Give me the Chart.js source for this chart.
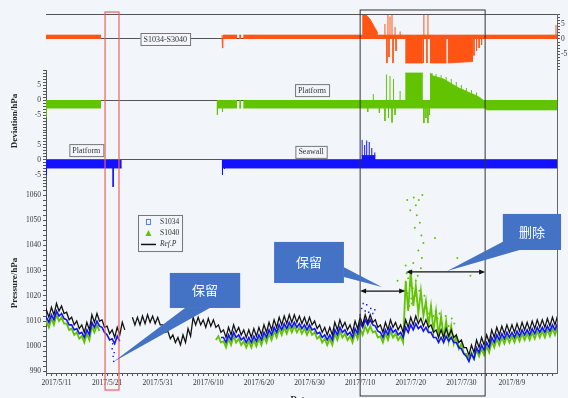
<!DOCTYPE html>
<html>
<head>
<meta charset="utf-8">
<script src="https://cdn.jsdelivr.net/npm/chart.js@4.4.1/dist/chart.umd.min.js"></script>
<style>
  html, body { margin: 0; padding: 0; background: #f2f6fa; }
  #wrap { width: 568px; height: 398px; }
</style>
</head>
<body>
<div id="wrap"><canvas id="c" width="568" height="398"></canvas></div>
<script>
// day 0 = 2017/5/11, pressure series sampled every half day from day -3
const seriesStart = -3;
const STEP = 0.5;

const refP = [
  1013.5,1010.5, 1014.5,1011.5, 1015.5,1012.5, 1017,1014, 1016,1013, 1013.5,1010.5, 1011.5,1008.5, 1010,1007, 1008.5,1005.5, 1009.5,1006.5,
  1012.5,1009.5, 1013,1010, 1010.5,1007.5, 1008,1005, 1006.5,1003.5, 1007.5,1004.5, 1009.5,1006.5, null,null, 1011.5,1008.5, 1011.5,1008.5,
  1012,1009, 1012.5,1009.5, 1012,1009, 1011.5,1008.5, 1008.5,1005.5, 1006,1003, 1004.5,1001.5, 1003.5,1000.5, 1004.5,1001.5, 1007,1004,
  1011.5,1008.5, 1011.5,1008.5, 1010.5,1007.5, 1011,1008, 1010.5,1007.5, 1008.5,1005.5, 1006.5,1003.5, 1007.5,1004.5, 1008.5,1005.5, 1007.5,1004.5,
  1006.5,1003.5, 1006.5,1003.5, 1007,1004, 1007.5,1004.5, 1008.5,1005.5, 1009.5,1006.5, 1010.5,1007.5, 1011.5,1008.5, 1012,1009, 1012.5,1009.5,
  1012.5,1009.5, 1012,1009, 1011.5,1008.5, 1011.5,1008.5, 1010,1007, 1008.5,1005.5, 1007.5,1004.5, 1007.5,1004.5, 1009.5,1006.5, 1010.5,1007.5,
  1009.5,1006.5, 1008.5,1005.5, 1010,1007, 1011.5,1008.5, 1012.5,1009.5, 1012.5,1009.5, 1010.5,1007.5, 1008.5,1005.5, 1009.5,1006.5, 1010.5,1007.5,
  1009.5,1006.5, 1008.5,1005.5, 1010.5,1007.5, 1011.5,1008.5, 1012,1009, 1011,1008, 1010.5,1007.5, 1008.5,1005.5, 1006.5,1003.5, 1006.5,1003.5,
  1007,1004, 1006.5,1003.5, 1004.5,1001.5, 1002.5,999.5, 999.5,996.5, 1000.5,997.5, 1002.5,999.5, 1003.5,1000.5, 1004.5,1001.5, 1006.5,1003.5,
  1007.5,1004.5, 1008,1005, 1008.5,1005.5, 1008.5,1005.5, 1009,1006, 1009.5,1006.5, 1009.5,1006.5, 1010,1007, 1010.5,1007.5, 1010.5,1007.5,
  1011,1008, 1011.5,1008.5, 1012,1009
];

const s1034 = [
  1010.5,1008.5, 1011.5,1009.5, 1012.5,1010.5, 1014,1012, 1013,1011, 1010.5,1008.5, 1008.5,1006.5, 1007,1005, 1005.5,1003.5, 1006.5,1004.5,
  1009.5,1007.5, 1010,1008, 1007.5,1005.5, 1004.5,1002.5, 1003,1001, 1004,1002, null,null, null,null, null,null, null,null,
  null,null, null,null, null,null, null,null, null,null, null,null, null,null, null,null, null,null, null,null,
  null,null, null,null, null,null, null,null, null,null, null,1003.5, 1003.5,1001.5, 1004.5,1002.5, 1005.5,1003.5, 1004.5,1002.5,
  1003.5,1001.5, 1003.5,1001.5, 1004,1002, 1004.5,1002.5, 1005.5,1003.5, 1006.5,1004.5, 1007.5,1005.5, 1008.5,1006.5, 1009,1007, 1009.5,1007.5,
  1009.5,1007.5, 1009,1007, 1008.5,1006.5, 1008.5,1006.5, 1007,1005, 1005.5,1003.5, 1004.5,1002.5, 1004.5,1002.5, 1006.5,1004.5, 1007.5,1005.5,
  1006.5,1004.5, 1005.5,1003.5, 1007,1005, 1009.5,1007.5, 1010.5,1008.5, 1010.5,1008.5, 1008,1006, 1005.5,1003.5, 1006.5,1004.5, 1007.5,1005.5,
  1006.5,1004.5, 1005.5,1003.5, 1007.5,1005.5, 1008.5,1006.5, 1009,1007, 1008,1006, 1007.5,1005.5, 1005.5,1003.5, 1003.5,1001.5, 1003.5,1001.5,
  1004,1002, 1003.5,1001.5, 1001.5,999.5, 999,997, 996,994, 997,995, 999.5,997.5, 1000.5,998.5, 1001.5,999.5, 1003.5,1001.5,
  1004.5,1002.5, 1005,1003, 1005.5,1003.5, 1005.5,1003.5, 1006,1004, 1006.5,1004.5, 1006.5,1004.5, 1007,1005, 1007.5,1005.5, 1007.5,1005.5,
  1008,1006, 1008.5,1006.5, 1009,1007
];

const s1040 = [
  1009,1006.5, 1010,1007.5, 1011,1008.5, 1012.5,1010, 1011.5,1009, 1009,1006.5, 1007,1004.5, 1005.5,1003, 1004,1001.5, 1005,1002.5,
  1008,1005.5, 1008.5,1006, null,null, null,null, null,null, null,null, null,null, null,null, null,null, null,null,
  null,null, null,null, null,null, null,null, null,null, null,null, null,null, null,null, null,null, null,null,
  null,null, null,null, null,null, null,null, null,1002.5, 1004,1001.5, 1002,999.5, 1003,1000.5, 1004,1001.5, 1003,1000.5,
  1002,999.5, 1002,999.5, 1002.5,1000, 1003,1000.5, 1004,1001.5, 1005,1002.5, 1006,1003.5, 1007,1004.5, 1007.5,1005, 1008,1005.5,
  1008,1005.5, 1007.5,1005, 1007,1004.5, 1007,1004.5, 1005.5,1003, 1004,1001.5, 1003,1000.5, 1003,1000.5, 1005,1002.5, 1006,1003.5,
  1005,1002.5, 1004,1001.5, 1005.5,1003, 1007,1004.5, 1008,1005.5, 1008,1005.5, 1006,1003.5, 1004,1001.5, 1005,1002.5, 1006,1003.5,
  1005,1002.5, 1004,1001.5, 1026,1014, 1030,1016, 1024,1013, 1022,1012, 1018,1008, 1016,1006, 1014,1004, 1012,1003,
  1010,1002, 1008,1001, 1004,999, 1001,997, 997,994.5, 997.5,995, 998.5,996, 999,996.5, 1000,997.5, 1002,999.5,
  1003,1000.5, 1003.5,1001, 1004,1001.5, 1004,1001.5, 1004.5,1002, 1005,1002.5, 1005,1002.5, 1005.5,1003, 1006,1003.5, 1006,1003.5,
  1006.5,1004, 1007,1004.5, 1007.5,1005
];

// scattered readings
const s1034OutDays = [11.0, 11.1, 11.2, 11.3, 11.4, 60.0, 60.3, 60.6, 61.0, 61.3, 61.7, 62.1, 62.5, 62.9];
const s1034OutVals = [999, 1001, 996, 994, 997.5, 1012.5, 1015, 1017, 1014, 1016.5, 1013.5, 1015, 1013, 1014.5];
const s1040OutDays = [67.4, 68.6, 69.0, 69.1, 69.2, 69.3, 69.4, 69.5, 69.7, 69.8, 69.9, 70.0, 70.1, 70.2, 70.4, 70.5, 70.6, 70.8, 70.9,
  71.0, 71.0, 71.2, 71.3, 71.4, 71.5, 71.6, 71.7, 71.8, 72.0, 72.1, 72.2, 72.3, 72.5, 72.7, 73.1, 73.6, 74.0, 74.5, 74.8, 74.9,
  75.3, 75.7, 76.1, 76.9, 77.5, 78.1, 78.6, 79.2, 81.8];
const s1040OutVals = [1026, 1022, 1032, 1025, 1029, 1058, 1021, 1027, 1016, 1030, 1054, 1024, 1019, 1017, 1023, 1033, 1059, 1047, 1020,
  1056, 1026, 1052, 1018, 1028, 1038, 1058, 1022, 1049, 1031, 1044, 1035, 1060, 1041, 1020, 1015, 1013, 1016, 1012, 1043, 1014,
  1011, 1013, 1009, 1012, 1008, 1011, 1009, 1035, 1028];

// deviation panels: [day, hPa]; null breaks a trace
const orangeBand = [[-2.1,1.3],[8.8,1.3],null,[32.7,1.3],[32.8,-3],[32.9,1.3],[35.7,1.3],null,[36.1,1.3],[36.5,1.3],null,[36.9,1.3],[98.9,1.3]];
const orangeBlock = [[60.4,8.3],[61.0,8.3],[61.5,7.5],[62.0,6.5],[62.5,5],[63.0,3.5],[63.5,2],null,[68.9,-8],[72.4,-8],null,[73.8,-8],[77.1,-8],null,[77.3,-8],[82.3,-7.5]];
const orangeSpikes = [[60.8,8.3],[64.9,5],[65.3,-8],[65.5,8.3],[65.7,-6],[65.9,7.5],[66.3,8.3],[66.5,-8],[66.9,4],[67.1,-4],[67.9,2.5],
  [72.5,-8],[72.6,8.3],[73.2,-8],[73.4,8.3],[82.5,-5.5],[83.0,-4],[83.5,-3],[84.0,-2],[98.7,4.7]];

const greenBand = [[-2.1,-2.7],[8.8,-2.7],null,[31.7,-2.7],[35.7,-2.7],null,[36.1,-2.7],[36.5,-2.7],null,[36.9,-2.7],[84.7,-2.7],[85.0,-3.3],[98.9,-3.3]];
const greenBlock = [[68.9,9],[72.4,9],null,[73.8,9],[74.5,8],[75.5,7.5],[76.5,7],[77.5,6],[78.5,5],[79.5,4],[80.5,3.3],[81.5,2.5],[82.5,1.8],[83.5,1],[84.3,0]];
const greenSpikes = [[-2.0,-5.7],[31.8,-5],[32.8,-4],[61.5,-4],[62.6,2],[63.8,-4.3],[64.9,-7],[65.2,8.5],[65.6,-6],[65.9,8],[66.3,-7.5],[66.6,7],
  [66.9,-5],[67.9,3],[72.6,-7.7],[73.0,-6],[73.4,-7.7],[73.7,-5],[74.2,9],[75.0,8.7],[76.0,8.3],[77.0,7.7],[78.0,7],[79.0,6],[80.0,5],[81.0,4],[82.0,3.3],[83.0,2.5]];

const blueBand = [[-2.1,-2.7],[12.9,-2.7],null,[32.7,-2.7],[98.9,-2.7]];
const blueBlock = [[60.3,1.5],[63.0,1.5]];
const blueSpikes = [[-2.0,-5],[11.2,-9],[32.8,-5],[33.2,-3],[60.4,6.7],[60.9,5],[61.3,6.5],[61.8,6],[62.3,4],[62.9,2.5]];

const ORANGE = '#ff5414';
const GREEN = '#62c400';
const BLUE = '#1212ff';
const BG = '#f2f6fa';
const SERIF = '"Liberation Serif", "Times New Roman", serif';

function halfDay(arr) {
  return arr.map((v, i) => ({ x: seriesStart + i * STEP, y: v }));
}
function trace(list) {
  let last = 0;
  return list.map(p => {
    if (p) { last = p[0]; return { x: p[0], y: p[1] }; }
    return { x: last, y: null };
  });
}
function spikes(list) {
  const out = [];
  list.forEach(([d, v]) => out.push({ x: d, y: 0 }, { x: d, y: v }, { x: d, y: null }));
  return out;
}
function scatter(days, vals) {
  return days.map((d, i) => ({ x: d, y: vals[i] }));
}
function dateLabel(v) {
  const dt = new Date(2017, 4, 11 + v);
  return dt.getFullYear() + '/' + (dt.getMonth() + 1) + '/' + dt.getDate();
}

const lineBase = { type: 'line', pointRadius: 0, tension: 0, spanGaps: false };
const fillSet = (list, color, axis) => Object.assign({}, lineBase, {
  data: trace(list), yAxisID: axis, borderColor: color, backgroundColor: color, borderWidth: 0.8, fill: 'origin'
});
const spikeSet = (list, color, axis) => Object.assign({}, lineBase, {
  data: spikes(list), yAxisID: axis, borderColor: color, borderWidth: 1, fill: false
});

const datasets = [
  Object.assign({}, lineBase, { label: 'Ref.P', data: halfDay(refP), yAxisID: 'yP', borderColor: '#111', borderWidth: 1.3 }),
  Object.assign({}, lineBase, { label: 'S1034', data: halfDay(s1034), yAxisID: 'yP', borderColor: BLUE, borderWidth: 1.6 }),
  Object.assign({}, lineBase, { label: 'S1040', data: halfDay(s1040), yAxisID: 'yP', borderColor: GREEN, borderWidth: 1.8 }),
  { type: 'scatter', data: scatter(s1034OutDays, s1034OutVals), yAxisID: 'yP', pointRadius: 1, pointStyle: 'rect', backgroundColor: BLUE, borderColor: BLUE, borderWidth: 0 },
  { type: 'scatter', data: scatter(s1040OutDays, s1040OutVals), yAxisID: 'yP', pointRadius: 1, backgroundColor: GREEN, borderColor: GREEN, borderWidth: 0 },
  fillSet(orangeBand, ORANGE, 'yO'), fillSet(orangeBlock, ORANGE, 'yO'), spikeSet(orangeSpikes, ORANGE, 'yO'),
  fillSet(greenBand, GREEN, 'yG'), fillSet(greenBlock, GREEN, 'yG'), spikeSet(greenSpikes, GREEN, 'yG'),
  fillSet(blueBand, BLUE, 'yB'), fillSet(blueBlock, BLUE, 'yB'), spikeSet(blueSpikes, BLUE, 'yB')
];

const tickFont = { family: SERIF, size: 7.5 };
const zeroLine = c => (c.tick && c.tick.value === 0) ? '#555' : 'rgba(0,0,0,0)';
const devLabel = v => (v % 5 === 0 && Math.abs(v) <= 5) ? String(v) : '';
const leftFit = s => { s.width = 46; };
const rightFit = s => { s.width = 11; };

function devAxis(weight, min, max, opts) {
  return Object.assign({
    type: 'linear', position: 'left', stack: 'left', stackWeight: weight, min, max,
    ticks: { stepSize: 1, autoSkip: false, includeBounds: false, font: tickFont, color: '#333', padding: 2, callback: devLabel },
    grid: { color: zeroLine, tickColor: '#555', tickLength: 3 },
    border: { display: true, color: '#555' },
    afterFit: leftFit
  }, opts || {});
}
function rightAxis(weight, min, max, showTicks) {
  return {
    type: 'linear', position: 'right', stack: 'right', stackWeight: weight, min, max,
    ticks: { display: showTicks, stepSize: 1, autoSkip: false, includeBounds: false, font: tickFont, color: '#333', padding: 1, callback: devLabel },
    grid: { display: showTicks, drawOnChartArea: false, tickColor: '#555', tickLength: 3 },
    border: { display: true, color: '#666' },
    afterFit: rightFit
  };
}

// panel annotations (day, value on that panel's axis)
const tags = [
  { axis: 'yO', text: 'S1034-S3040', d: 21.5, v: 0 },
  { axis: 'yG', text: 'Platform', d: 50.5, v: 3.3 },
  { axis: 'yB', text: 'Platform', d: 5.9, v: 3.3 },
  { axis: 'yB', text: 'Seawall', d: 50.3, v: 2.7 }
];
const callouts = [
  { text: '保留', box: [22.4, 36.3, 1029.1, 1015.2], base: [[25.4, 1015.2], [30.3, 1015.2]], tip: [11.2, 993.8] },
  { text: '保留', box: [43.0, 56.8, 1041.4, 1025.1], base: [[56.8, 1031.4], [56.8, 1027.5]], tip: [64.3, 1023.5] },
  { text: '删除', box: [88.2, 99.7, 1052.5, 1038.2], base: [[88.2, 1041.5], [91.5, 1038.2]], tip: [77.2, 1029.9] }
];
const arrows = [
  { from: 60.0, to: 68.9, v: 1021.9 },
  { from: 69.1, to: 84.7, v: 1029.5 }
];

const annot = {
  id: 'annot',
  afterDraw(chart) {
    const { ctx, chartArea: a, scales: s } = chart;
    const X = d => s.x.getPixelForValue(d);
    const P = v => s.yP.getPixelForValue(v);
    ctx.save();

    // top frame line
    ctx.strokeStyle = '#555'; ctx.lineWidth = 1;
    ctx.beginPath(); ctx.moveTo(a.left, a.top + 0.5); ctx.lineTo(a.right, a.top + 0.5); ctx.stroke();

    // boxed panel tags
    ctx.font = '8px ' + SERIF; ctx.textAlign = 'center'; ctx.textBaseline = 'middle';
    tags.forEach(t => {
      const cx = X(t.d), cy = s[t.axis].getPixelForValue(t.v);
      const w = ctx.measureText(t.text).width + 6, h = 12;
      ctx.fillStyle = BG; ctx.fillRect(cx - w / 2, cy - h / 2, w, h);
      ctx.strokeStyle = '#777'; ctx.strokeRect(cx - w / 2 + 0.5, cy - h / 2 + 0.5, w, h);
      ctx.fillStyle = '#333'; ctx.fillText(t.text, cx, cy + 0.5);
    });

    // legend
    const lx = X(16.1), ly = P(1052.1), lw = X(24.8) - lx, lh = P(1037.8) - ly;
    ctx.strokeStyle = '#777'; ctx.strokeRect(Math.round(lx) + 0.5, Math.round(ly) + 0.5, lw, lh);
    ctx.textAlign = 'left'; ctx.fillStyle = '#333';
    ctx.font = '7.5px ' + SERIF;
    ctx.strokeStyle = '#5a7bd8'; ctx.lineWidth = 1;
    ctx.strokeRect(lx + 8.5, ly + 4.5, 4, 5);
    ctx.fillText('S1034', lx + 22, ly + 7.5);
    ctx.fillStyle = GREEN;
    ctx.beginPath(); ctx.moveTo(lx + 10.5, ly + 15); ctx.lineTo(lx + 13.5, ly + 21); ctx.lineTo(lx + 7.5, ly + 21); ctx.closePath(); ctx.fill();
    ctx.fillStyle = '#333'; ctx.fillText('S1040', lx + 22, ly + 18.5);
    ctx.strokeStyle = '#111'; ctx.lineWidth = 1.5;
    ctx.beginPath(); ctx.moveTo(lx + 3, ly + 29.5); ctx.lineTo(lx + 18, ly + 29.5); ctx.stroke();
    ctx.font = 'italic 7.5px ' + SERIF; ctx.fillText('Ref.P', lx + 22, ly + 29.5);

    // red and black frames
    ctx.lineWidth = 1.2; ctx.strokeStyle = '#f06060';
    ctx.strokeRect(X(9.6), a.top - 2, X(12.35) - X(9.6), 390 - a.top + 2);
    ctx.lineWidth = 1; ctx.strokeStyle = '#333';
    ctx.strokeRect(X(60.0), a.top - 4, X(84.7) - X(60.0), 400 - a.top);

    // callouts
    callouts.forEach(c => {
      ctx.fillStyle = '#4472c4';
      ctx.beginPath();
      ctx.moveTo(X(c.base[0][0]), P(c.base[0][1]));
      ctx.lineTo(X(c.tip[0]), P(c.tip[1]));
      ctx.lineTo(X(c.base[1][0]), P(c.base[1][1]));
      ctx.closePath(); ctx.fill();
      const x0 = X(c.box[0]), x1 = X(c.box[1]), y0 = P(c.box[2]), y1 = P(c.box[3]);
      ctx.fillRect(x0, y0, x1 - x0, y1 - y0);
      ctx.fillStyle = '#fff'; ctx.font = '13px "Noto Sans CJK SC", sans-serif';
      ctx.textAlign = 'center'; ctx.textBaseline = 'middle';
      ctx.fillText(c.text, (x0 + x1) / 2, (y0 + y1) / 2);
    });

    // double-headed arrows
    ctx.strokeStyle = '#111'; ctx.fillStyle = '#111'; ctx.lineWidth = 1.2;
    arrows.forEach(r => {
      const x0 = X(r.from), x1 = X(r.to), y = P(r.v);
      ctx.beginPath(); ctx.moveTo(x0 + 3, y); ctx.lineTo(x1 - 3, y); ctx.stroke();
      ctx.beginPath(); ctx.moveTo(x0, y); ctx.lineTo(x0 + 6, y - 2.5); ctx.lineTo(x0 + 6, y + 2.5); ctx.closePath(); ctx.fill();
      ctx.beginPath(); ctx.moveTo(x1, y); ctx.lineTo(x1 - 6, y - 2.5); ctx.lineTo(x1 - 6, y + 2.5); ctx.closePath(); ctx.fill();
    });

    // axis titles
    ctx.fillStyle = '#222'; ctx.font = 'bold 9px ' + SERIF; ctx.textAlign = 'center'; ctx.textBaseline = 'middle';
    [['Deviation/hPa', 121], ['Pressure/hPa', 283]].forEach(([t, y]) => {
      ctx.save(); ctx.translate(15, y); ctx.rotate(-Math.PI / 2); ctx.fillText(t, 0, 0); ctx.restore();
    });
    ctx.textBaseline = 'top';
    ctx.fillText('Date', X(48), 395);
    ctx.restore();
  }
};

// left stack is laid out bottom-up in definition order, right stack top-down
new Chart(document.getElementById('c'), {
  type: 'line',
  data: { datasets },
  options: {
    responsive: false,
    animation: false,
    events: [],
    layout: { padding: { top: 14, left: 0, right: 0, bottom: 0 }, autoPadding: false },
    plugins: { legend: { display: false }, tooltip: { enabled: false } },
    scales: {
      x: {
        type: 'linear', position: 'bottom', min: -2.07, max: 98.9,
        ticks: {
          stepSize: 1, autoSkip: false, includeBounds: false, maxRotation: 0, minRotation: 0,
          font: tickFont, color: '#333', padding: 3,
          callback: v => (Math.abs(v - Math.round(v)) < 1e-6 && Math.round(v) % 10 === 0) ? dateLabel(Math.round(v)) : ''
        },
        grid: { drawOnChartArea: false, tickColor: '#555', tickLength: 3 },
        border: { color: '#555' },
        afterFit: s => { s.height = 25; }
      },
      yP: devAxis(184, 989.4, 1062.4, {
        ticks: {
          stepSize: 2, autoSkip: false, includeBounds: false, font: tickFont, color: '#333', padding: 2,
          callback: v => (Math.abs(v % 10) < 1e-6) ? String(v) : ''
        },
        grid: { drawOnChartArea: false, tickColor: '#555', tickLength: 3 }
      }),
      yB: devAxis(59, -9.67, 10),
      yG: devAxis(60, -10, 10),
      yO: devAxis(56, -10.33, 8.33, {
        ticks: { display: false, stepSize: 1, includeBounds: false },
        grid: { color: zeroLine, drawTicks: false },
        border: { display: false }
      }),
      rO: rightAxis(56, -10.33, 8.33, true),
      rG: rightAxis(60, -10, 10, false),
      rB: rightAxis(59, -9.67, 10, false),
      rP: rightAxis(184, 989.4, 1062.4, false)
    }
  },
  plugins: [annot]
});
</script>
</body>
</html>
